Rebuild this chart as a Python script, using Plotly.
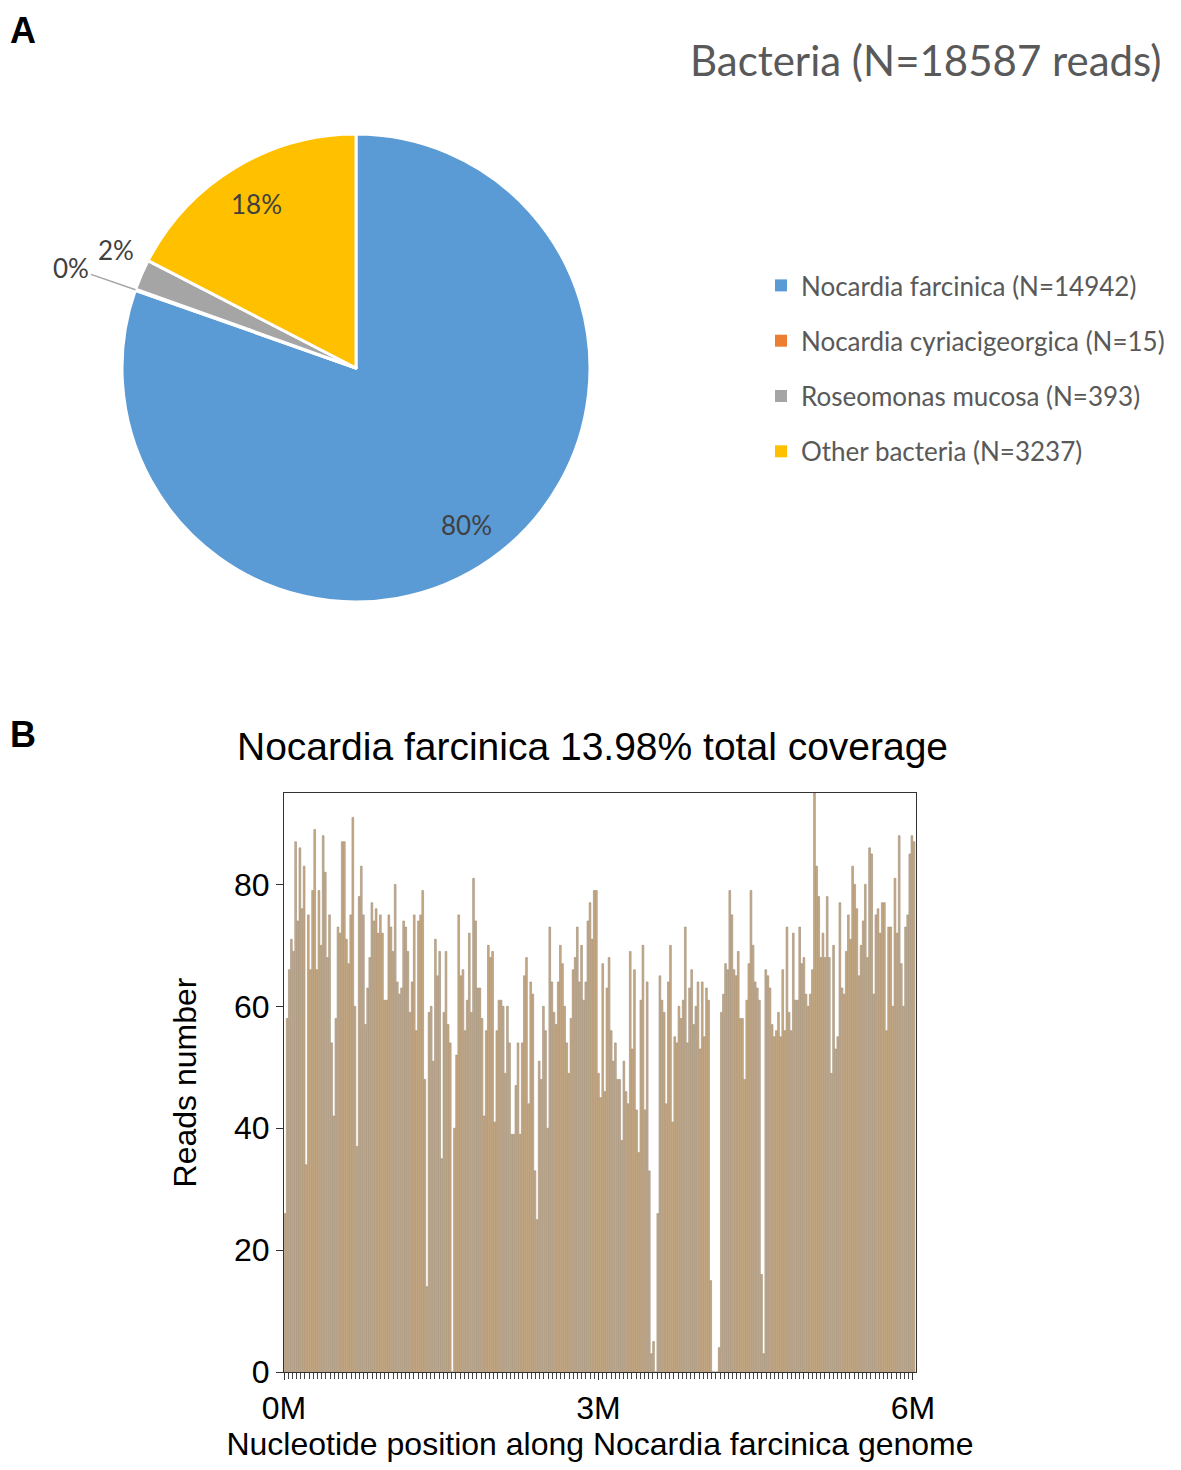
import math
import plotly.graph_objects as go

# ---------------- Panel A data ----------------
species = ["Nocardia farcinica", "Nocardia cyriacigeorgica", "Roseomonas mucosa", "Other bacteria"]
species_reads = [14942, 15, 393, 3237]
species_pct_labels = ["80%", "0%", "2%", "18%"]
species_colors = ["#5B9BD5", "#ED7D31", "#A5A5A5", "#FFC000"]
total_reads = 18587

# ---------------- Panel B data ----------------
genome_length = 6021225
coverage_pct = 13.98
reads_per_bin = [
    26, 58, 66, 71, 69, 87, 74, 86, 76, 83, 34, 75, 66, 79, 89, 66, 79, 70, 88, 82,
    68, 75, 54, 42, 58, 73, 72, 87, 87, 71, 67, 75, 91, 60, 37, 78, 83, 75, 57, 63,
    68, 77, 74, 76, 72, 75, 72, 61,
    61, 75, 73, 69, 80, 64, 62, 63, 74, 73, 69, 59, 64, 75, 56, 74, 75, 79, 48, 14,
    59, 60, 51, 71, 65, 69, 35, 59, 69, 57, 54, 0, 40, 52, 75, 65, 66, 56, 61, 72,
    59, 81, 74, 63, 63, 58, 42, 56, 70,
    68, 69, 41, 56, 61, 61, 60, 49, 60, 54, 39, 39, 47, 54, 39, 54, 65, 68, 44, 64,
    62, 33, 25, 51, 48, 60, 56, 40, 73, 64, 59, 57, 64, 70, 67, 60, 54, 49, 58, 66,
    68, 73, 64, 70, 61, 64, 74, 77, 71, 79,
    79, 49, 45, 67, 46, 63, 68, 56, 51, 54, 48, 48, 38, 51, 46, 44, 69, 53, 66, 43,
    36, 61, 70, 43, 64, 33, 3, 5, 0, 26, 65, 61, 59, 44, 64, 70, 41, 55, 54, 60,
    58, 61, 73, 54, 63, 66, 57, 60, 64, 53,
    64, 55, 63, 61, 15, 0, 0, 0, 4, 59, 62, 67, 66, 79, 75, 66, 65, 69, 58, 58,
    48, 61, 67, 79, 70, 64, 63, 61, 16, 3, 66, 65, 63, 57, 55, 56, 59, 55, 66, 56,
    73, 59, 56, 72, 61, 61, 73, 67, 68, 62, 60,
    62, 66, 95, 83, 78, 68, 72, 68, 78, 68, 49, 70, 53, 55, 77, 63, 62, 69, 75, 71,
    83, 80, 76, 65, 70, 74, 80, 68, 86, 85, 62, 75, 76, 72, 77, 77, 56, 73, 73, 60,
    81, 72, 88, 67, 60, 73, 75, 85, 88, 87,
]
x_tickvals = [0, 3_000_000, 6_000_000]
x_ticktext = ["0M", "3M", "6M"]
y_tickvals = [0, 20, 40, 60, 80]

PAGE_OFFSET = 8  # the browser page places the figure 8 px from the top-left corner
W, H = 1181 - 2 * PAGE_OFFSET, 1470 - 2 * PAGE_OFFSET
def px(x):
    return (x - PAGE_OFFSET) / W
def py(y):
    return 1 - (y - PAGE_OFFSET) / H

# pie placement (screen pixels)
PIE_X0, PIE_X1, PIE_Y0, PIE_Y1 = 122, 590, 134, 602
pie_cx = (PIE_X0 + PIE_X1) / 2
pie_cy = (PIE_Y0 + PIE_Y1) / 2
pie_r = (PIE_X1 - PIE_X0) / 2

n_bins = len(reads_per_bin)
bin_size = genome_length / n_bins
bin_centers = [(i + 0.5) * bin_size for i in range(n_bins)]

fig = go.Figure()

fig.add_trace(go.Pie(
    labels=species,
    values=species_reads,
    marker=dict(colors=species_colors, line=dict(color="white", width=3)),
    sort=False,
    direction="clockwise",
    rotation=0,
    textinfo="none",
    domain=dict(x=[px(PIE_X0), px(PIE_X1)], y=[py(PIE_Y1), py(PIE_Y0)]),
    showlegend=False,
    hoverinfo="label+value+percent",
))

# Legend entries
for i, (name, n, c) in enumerate(zip(species, species_reads, species_colors)):
    fig.add_trace(go.Scatter(
        x=[None], y=[None], mode="markers",
        marker=dict(symbol="square", size=12, color=c),
        name=f"{name} (N={n})",
        legendgroup=f"g{i}",
        showlegend=True,
        xaxis="x", yaxis="y",
    ))

fig.add_trace(go.Bar(
    x=bin_centers,
    y=reads_per_bin,
    width=bin_size * 0.82,
    marker=dict(color="#C9AC86", line=dict(color="#9E8B73", width=0.6)),
    showlegend=False,
    xaxis="x", yaxis="y",
))

# pie percentage labels placed along each slice's mid-angle
pie_font = dict(family="Lato, Open Sans, sans-serif", size=26, color="#404040")
annotations = []
total = sum(species_reads)
cum = 0
label_radius = [0.82, None, 1.14, 0.82]
label_shift = [(0, 0), (0, 0), (5, 12), (0, 0)]
for i, v in enumerate(species_reads):
    mid = (cum + v / 2) / total * 2 * math.pi
    cum += v
    sx, sy = math.sin(mid), -math.cos(mid)
    if label_radius[i] is None:
        hx, hy = pie_cx + pie_r * sx, pie_cy + pie_r * sy
        annotations.append(dict(
            text=species_pct_labels[i], x=px(hx), y=py(hy), xref="paper", yref="paper",
            showarrow=True, arrowhead=0, arrowwidth=1.5, arrowcolor="#A5A5A5",
            ax=-64, ay=-22, font=pie_font,
        ))
    else:
        k = label_radius[i]
        tx, ty = pie_cx + k * pie_r * sx, pie_cy + k * pie_r * sy
        annotations.append(dict(
            text=species_pct_labels[i], x=px(tx), y=py(ty), xref="paper", yref="paper",
            xanchor="center", yanchor="middle", showarrow=False, font=pie_font,
            xshift=label_shift[i][0], yshift=label_shift[i][1],
        ))

annotations += [
    dict(text="<b>A</b>", x=px(8), y=py(8), xref="paper", yref="paper",
         xanchor="left", yanchor="top", showarrow=False,
         font=dict(family="Liberation Sans, Arial, sans-serif", size=36, color="black")),
    dict(text="<b>B</b>", x=px(8), y=py(712), xref="paper", yref="paper",
         xanchor="left", yanchor="top", showarrow=False,
         font=dict(family="Liberation Sans, Arial, sans-serif", size=36, color="black")),
    dict(text=f"Bacteria (N={total_reads} reads)", x=px(1164), y=py(60),
         xref="paper", yref="paper", xanchor="right", yanchor="middle", showarrow=False,
         font=dict(family="Lato, Open Sans, sans-serif", size=42, color="#595959")),
    dict(text=f"Nocardia farcinica {coverage_pct:.2f}% total coverage", x=px(592), y=py(746),
         xref="paper", yref="paper", xanchor="center", yanchor="middle", showarrow=False,
         font=dict(family="Liberation Sans, Arial, sans-serif", size=39, color="black")),
]

axis_font = dict(family="Liberation Sans, Arial, sans-serif", size=32, color="black")
title_font = dict(family="Liberation Sans, Arial, sans-serif", size=32, color="black")

fig.update_layout(
    width=W, height=H,
    margin=dict(l=0, r=0, t=0, b=0, autoexpand=False),
    paper_bgcolor="white",
    plot_bgcolor="white",
    showlegend=True,
    legend=dict(
        x=px(761), y=py(262), xanchor="left", yanchor="top",
        font=dict(family="Lato, Open Sans, sans-serif", size=26, color="#595959"),
        tracegroupgap=18.5,
        itemwidth=30,
        bgcolor="rgba(0,0,0,0)",
    ),
    xaxis=dict(
        domain=[px(284), px(916)],
        anchor="y",
        range=[0, 6.03e6],
        tickmode="array", tickvals=x_tickvals, ticktext=x_ticktext,
        ticks="outside", ticklen=7, tickcolor="#333",
        minor=dict(tickmode="linear", tick0=0, dtick=40000, ticks="outside", ticklen=6, tickcolor="#444"),
        showline=True, linecolor="#333", linewidth=1.2, mirror=True,
        showgrid=False, zeroline=False,
        tickfont=axis_font,
        title=dict(text="Nucleotide position along Nocardia farcinica genome",
                   font=title_font, standoff=19),
    ),
    yaxis=dict(
        domain=[py(1372), py(793)],
        anchor="x",
        range=[0, 95],
        tickmode="array", tickvals=y_tickvals,
        ticks="outside", ticklen=7, tickcolor="#333",
        showline=True, linecolor="#333", linewidth=1.2, mirror=True,
        showgrid=False, zeroline=False,
        tickfont=axis_font,
        title=dict(text="Reads number", font=title_font, standoff=27),
    ),
    bargap=0.18,
    annotations=annotations,
)

fig.write_html("out.html")
